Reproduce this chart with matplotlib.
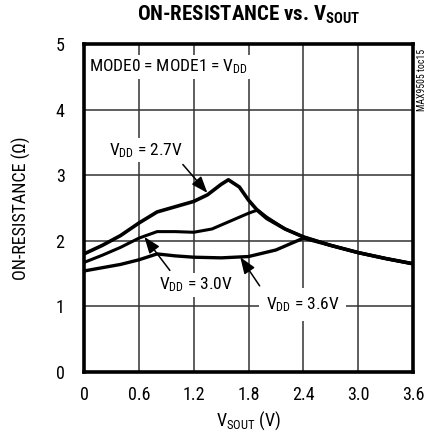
import matplotlib
matplotlib.use("Agg")
import matplotlib.pyplot as plt
from matplotlib import font_manager

# condensed face close to the datasheet's Helvetica Condensed, with fallbacks
installed = {f.name for f in font_manager.fontManager.ttflist}
FONT = next((n for n in ["Roboto Condensed", "Archivo Narrow", "Liberation Sans Narrow", "Liberation Sans"]
             if n in installed), "DejaVu Sans")
SCALE = 1.0 if FONT != "Liberation Sans" else 0.87

plt.rcParams["font.family"] = [FONT, "DejaVu Sans"]
plt.rcParams["mathtext.fontset"] = "custom"
plt.rcParams["mathtext.rm"] = FONT
plt.rcParams["mathtext.bf"] = FONT + ":bold"
plt.rcParams["mathtext.default"] = "regular"

# V_SOUT (V) and on-resistance (ohm)
vsout_27 = [0.0, 0.2, 0.4, 0.6, 0.8, 1.0, 1.2, 1.35, 1.5, 1.58, 1.7, 1.8, 1.9, 2.0, 2.2, 2.4, 2.7, 3.0, 3.3, 3.6]
ron_27 = [1.80, 1.93, 2.08, 2.27, 2.44, 2.52, 2.60, 2.70, 2.86, 2.93, 2.82, 2.62, 2.46, 2.34, 2.18, 2.06, 1.93, 1.82, 1.73, 1.65]

vsout_30 = [0.0, 0.2, 0.4, 0.6, 0.8, 1.0, 1.2, 1.4, 1.6, 1.8, 1.9, 2.0, 2.2, 2.4, 2.7, 3.0, 3.3, 3.6]
ron_30 = [1.67, 1.78, 1.90, 2.04, 2.14, 2.14, 2.13, 2.18, 2.30, 2.42, 2.47, 2.36, 2.18, 2.06, 1.93, 1.82, 1.73, 1.65]

vsout_36 = [0.0, 0.2, 0.4, 0.6, 0.8, 1.0, 1.2, 1.5, 1.8, 2.1, 2.4, 2.7, 3.0, 3.3, 3.6]
ron_36 = [1.54, 1.59, 1.64, 1.71, 1.80, 1.77, 1.75, 1.74, 1.76, 1.86, 2.04, 1.93, 1.82, 1.73, 1.65]

x_ticks = [0, 0.6, 1.2, 1.8, 2.4, 3.0, 3.6]
x_tick_labels = ["0", "0.6", "1.2", "1.8", "2.4", "3.0", "3.6"]
y_ticks = [0, 1, 2, 3, 4, 5]

fs = 13 * SCALE
fs_note = 12.5 * SCALE

fig = plt.figure(figsize=(4.28, 4.34), dpi=100)
ax = fig.add_axes([84 / 428, 1 - 372 / 434, 329 / 428, 328 / 434])

ax.plot(vsout_27, ron_27, color="black", lw=2.6, solid_capstyle="round", zorder=3)
ax.plot(vsout_30, ron_30, color="black", lw=2.2, solid_capstyle="round", zorder=3)
ax.plot(vsout_36, ron_36, color="black", lw=2.4, solid_capstyle="round", zorder=3)

ax.set_xlim(0, 3.6)
ax.set_ylim(0, 5)
ax.set_xticks(x_ticks)
ax.set_xticklabels(x_tick_labels)
ax.set_yticks(y_ticks)
ax.tick_params(axis="x", length=0, labelsize=fs, pad=10)
ax.tick_params(axis="y", length=0, labelsize=fs, pad=14)
ax.grid(True, color="#333333", lw=1.1)
ax.set_axisbelow(True)
for sp in ax.spines.values():
    sp.set_linewidth(2.6)

ax.set_xlabel(r"V$_{SOUT}$ (V)", fontsize=fs, labelpad=4)
ax.set_ylabel("ON-RESISTANCE (\u03a9)", fontsize=fs, labelpad=18)
fig.text(0.58, 0.965, r"ON-RESISTANCE vs. V$_{\mathbf{SOUT}}$", ha="center", va="center",
         fontsize=15 * SCALE, fontweight="bold")
fig.text(0.985, 0.815, "MAX9505 toc15", rotation=90, ha="center", va="center", fontsize=7 * SCALE)

box = dict(facecolor="white", edgecolor="none", pad=2)
ax.text(0.06, 4.65, r"MODE0 = MODE1 = V$_{DD}$", fontsize=fs_note, ha="left", va="center", bbox=box)

arrow = dict(arrowstyle="-|>,head_length=0.8,head_width=0.3", color="black", lw=1.1, shrinkA=2, shrinkB=0)
ax.annotate(r"V$_{DD}$ = 2.7V", xy=(1.35, 2.73), xytext=(0.27, 3.38), fontsize=fs_note,
            ha="left", va="center", bbox=box, arrowprops=dict(arrow, relpos=(0.95, 0.0)))
ax.annotate(r"V$_{DD}$ = 3.0V", xy=(0.66, 2.06), xytext=(0.82, 1.33), fontsize=fs_note,
            ha="left", va="center", bbox=box, arrowprops=dict(arrow, relpos=(0.2, 1.0)))
ax.annotate(r"V$_{DD}$ = 3.6V", xy=(1.71, 1.75), xytext=(1.99, 1.03), fontsize=fs_note,
            ha="left", va="center", bbox=dict(facecolor="white", edgecolor="none", pad=5),
            arrowprops=dict(arrow, relpos=(0.0, 1.0)))

fig.savefig("out.png", dpi=100)
